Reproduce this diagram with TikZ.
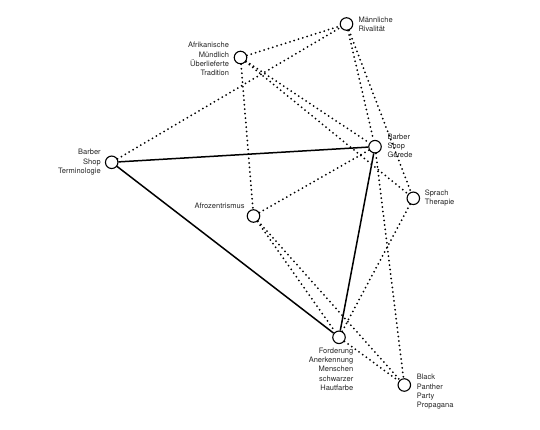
\documentclass[tikz,border=0pt]{standalone}
\usepackage{fontspec}
\setmainfont{TeX Gyre Heros}
\usetikzlibrary{positioning}

\begin{document}
\begin{tikzpicture}[
      x=1pt, y=-1pt,
      topic/.style={circle, draw, fill=white, line width=1.1pt, minimum size=12.5pt, inner sep=0pt},
      tie/.style={line width=1.5pt},
      loose/.style={line width=2pt, line cap=round, dash pattern=on 0pt off 4.5pt},
      txt/.style={font=\fontsize{7.5}{9.3}\selectfont, inner sep=0pt, text=black!85}
    ]
    \useasboundingbox (0,0) rectangle (540,430);
    % the topics
    \node[topic] (mr) at (346.5,24) {};
    \node[topic] (amut) at (240.5,57.5) {};
    \node[topic] (bst) at (111.7,162.3) {};
    \node[topic] (bsg) at (375,146.7) {};
    \node[topic] (st) at (413.3,198.3) {};
    \node[topic] (az) at (253.5,216) {};
    \node[topic] (fa) at (339,337.3) {};
    \node[topic] (bpp) at (404.3,385) {};
    % their names
    \node[txt, align=left, right=5pt of mr] (mrtext) {Männliche\\Rivalität};
    \node[txt, align=right, left=4.5pt of amut, yshift=-1.5pt] (amuttext) {Afrikanische\\Mündlich\\Überlieferte\\Tradition};
    \node[txt, align=right, left=4pt of bst] (bsttext) {Barber\\Shop\\Terminologie};
    \node[txt, align=left, right=5.5pt of bsg, yshift=1pt] (bsgtext) {Barber\\Shop\\Gerede};
    \node[txt, align=left, right=4.5pt of st] (sttext) {Sprach\\Therapie};
    \node[txt, above left=2pt and 4pt of az] (aztext) {Afrozentrismus};
    \node[txt, align=right, below=3.5pt of fa, xshift=-8pt] (fatext) {Forderung\\Anerkennung\\Menschen\\schwarzer\\Hautfarbe};
    \node[txt, align=left, right=5.5pt of bpp, yshift=-7pt] (bpptext) {Black\\Panther\\Party\\Propagana};
    % strong ties
    \draw[tie] (bst) -- (bsg);
    \draw[tie] (bst) -- (fa);
    \draw[tie] (bsg) -- (fa);
    % loose ties
    \draw[loose] (bst) -- (mr);
    \draw[loose] (amut) -- (mr);
    \draw[loose] (amut) -- (az);
    \draw[loose] (amut) -- (bsg);
    \draw[loose] (amut) -- (st);
    \draw[loose] (mr) -- (bsg);
    \draw[loose] (mr) -- (st);
    \draw[loose] (az) -- (bsg);
    \draw[loose] (az) -- (fa);
    \draw[loose] (az) -- (bpp);
    \draw[loose] (bsg) -- (bpp);
    \draw[loose] (st) -- (fa);
    \draw[loose] (fa) -- (bpp);
    \end{tikzpicture}
\end{document}
